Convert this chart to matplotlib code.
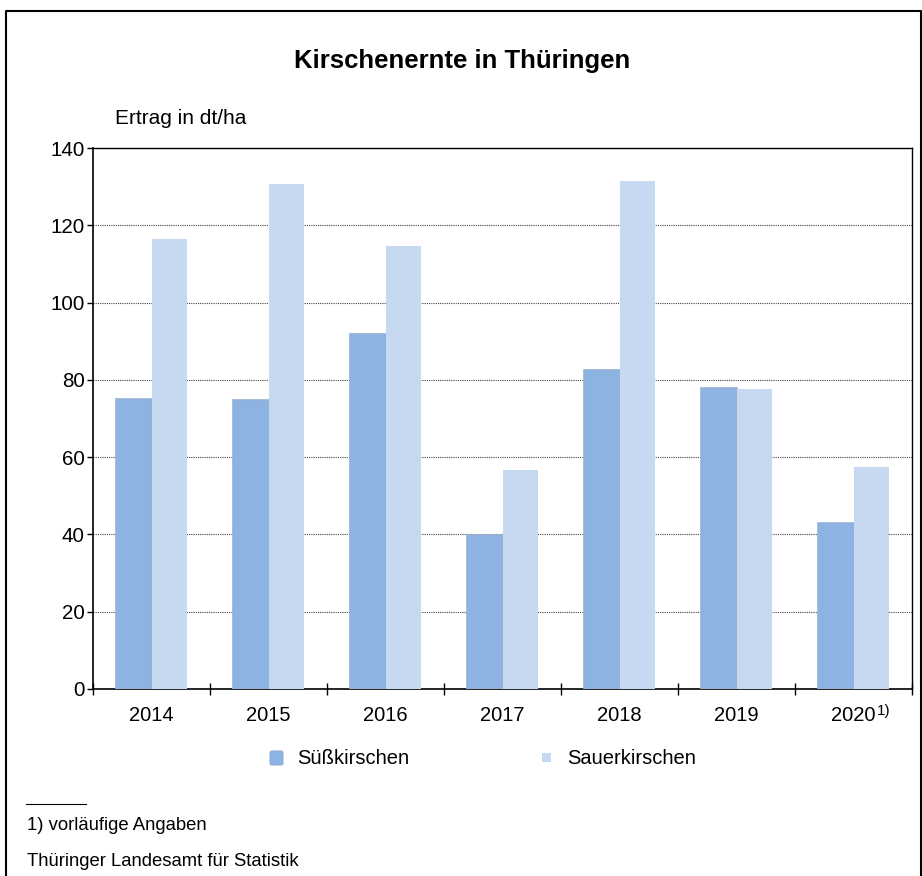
import matplotlib
matplotlib.use("Agg")
import matplotlib.pyplot as plt
from matplotlib.patches import Rectangle, FancyBboxPatch
from matplotlib.lines import Line2D

years = ["2014", "2015", "2016", "2017", "2018", "2019", "2020"]
suess = [75.0, 74.8, 91.8, 39.9, 82.5, 77.8, 43.0]
sauer = [116.4, 130.8, 114.6, 56.6, 131.5, 77.6, 57.4]
yticks = [0, 20, 40, 60, 80, 100, 120, 140]

plt.rcParams['font.family'] = ['Liberation Sans', 'DejaVu Sans']

W, H = 922, 876
fig = plt.figure(figsize=(W / 100, H / 100), dpi=100)

def fx(px):
    return px / W

def fy(py):
    return 1 - py / H

ax = fig.add_axes([fx(93), fy(689), fx(912) - fx(93), fy(148) - fy(689)])

c_dark = '#8DB3E2'
c_dark_edge = '#95B1D6'
c_light = '#C6D9F1'

x = list(range(len(years)))
ax.bar([i - 0.15 for i in x], suess, width=0.3, color=c_dark,
       edgecolor=c_dark_edge, linewidth=1.2, zorder=3)
ax.bar([i + 0.15 for i in x], sauer, width=0.3, color=c_light,
       edgecolor='none', zorder=3)

ax.set_xlim(-0.5, len(years) - 0.5)
ax.set_ylim(0, 140)
ax.set_yticks(yticks)
ax.set_yticklabels([str(v) for v in yticks], fontsize=14.8)
ax.yaxis.grid(True, linestyle=(0, (1, 1)), color='#444444', linewidth=0.8, zorder=0)
ax.tick_params(axis='y', direction='out', length=4.3, width=1, pad=1.5)

ax.set_xticks(x)
ax.set_xticklabels(years, fontsize=14.5)
ax.tick_params(axis='x', which='major', length=0, pad=12)
ax.set_xticks([i - 0.5 for i in range(len(years) + 1)], minor=True)
ax.tick_params(axis='x', which='minor', direction='inout', length=8, width=1)

for s in ['left', 'bottom']:
    ax.spines[s].set_linewidth(1.2)
    ax.spines[s].set_color('black')
for s in ['top', 'right']:
    ax.spines[s].set_linewidth(1.0)
    ax.spines[s].set_color('black')

# footnote marker on 2020
ax.annotate("1)", xy=(len(years) - 1, 0), xycoords='data',
            xytext=(30, -22), textcoords='offset pixels',
            fontsize=11, ha='center', va='center', annotation_clip=False)

# title and labels
fig.text(fx(462), fy(61), "Kirschenernte in Thüringen", fontsize=18.5,
         fontweight='bold', ha='center', va='center')
fig.text(fx(115), fy(119), "Ertrag in dt/ha", fontsize=15, ha='left', va='center')

# legend
fig.patches.append(FancyBboxPatch((fx(270), fy(765)), fx(13), fy(751) - fy(765),
                                  boxstyle='round,pad=0,rounding_size=0.002',
                                  transform=fig.transFigure, facecolor=c_dark,
                                  edgecolor=c_dark_edge, linewidth=0.8))
fig.text(fx(297), fy(758), "Süßkirschen", fontsize=14.5, ha='left', va='center')
fig.patches.append(Rectangle((fx(542), fy(762)), fx(9), fy(753) - fy(762),
                             transform=fig.transFigure, facecolor=c_light,
                             edgecolor='none'))
fig.text(fx(567), fy(758), "Sauerkirschen", fontsize=14.5, ha='left', va='center')

# footnotes
fig.lines.append(Line2D([fx(26), fx(86)], [fy(804), fy(804)],
                        transform=fig.transFigure, color='black', linewidth=0.8))
fig.text(fx(27), fy(826), "1) vorläufige Angaben", fontsize=13.3, ha='left', va='center')
fig.text(fx(27), fy(861), "Thüringer Landesamt für Statistik", fontsize=13.3,
         ha='left', va='center')

# outer frame
fig.lines.append(Line2D([fx(5.5), fx(5.5), fx(920.5), fx(920.5)],
                        [fy(880), fy(11), fy(11), fy(880)],
                        transform=fig.transFigure, color='black', linewidth=1.5))

fig.savefig("out.png", dpi=100)
